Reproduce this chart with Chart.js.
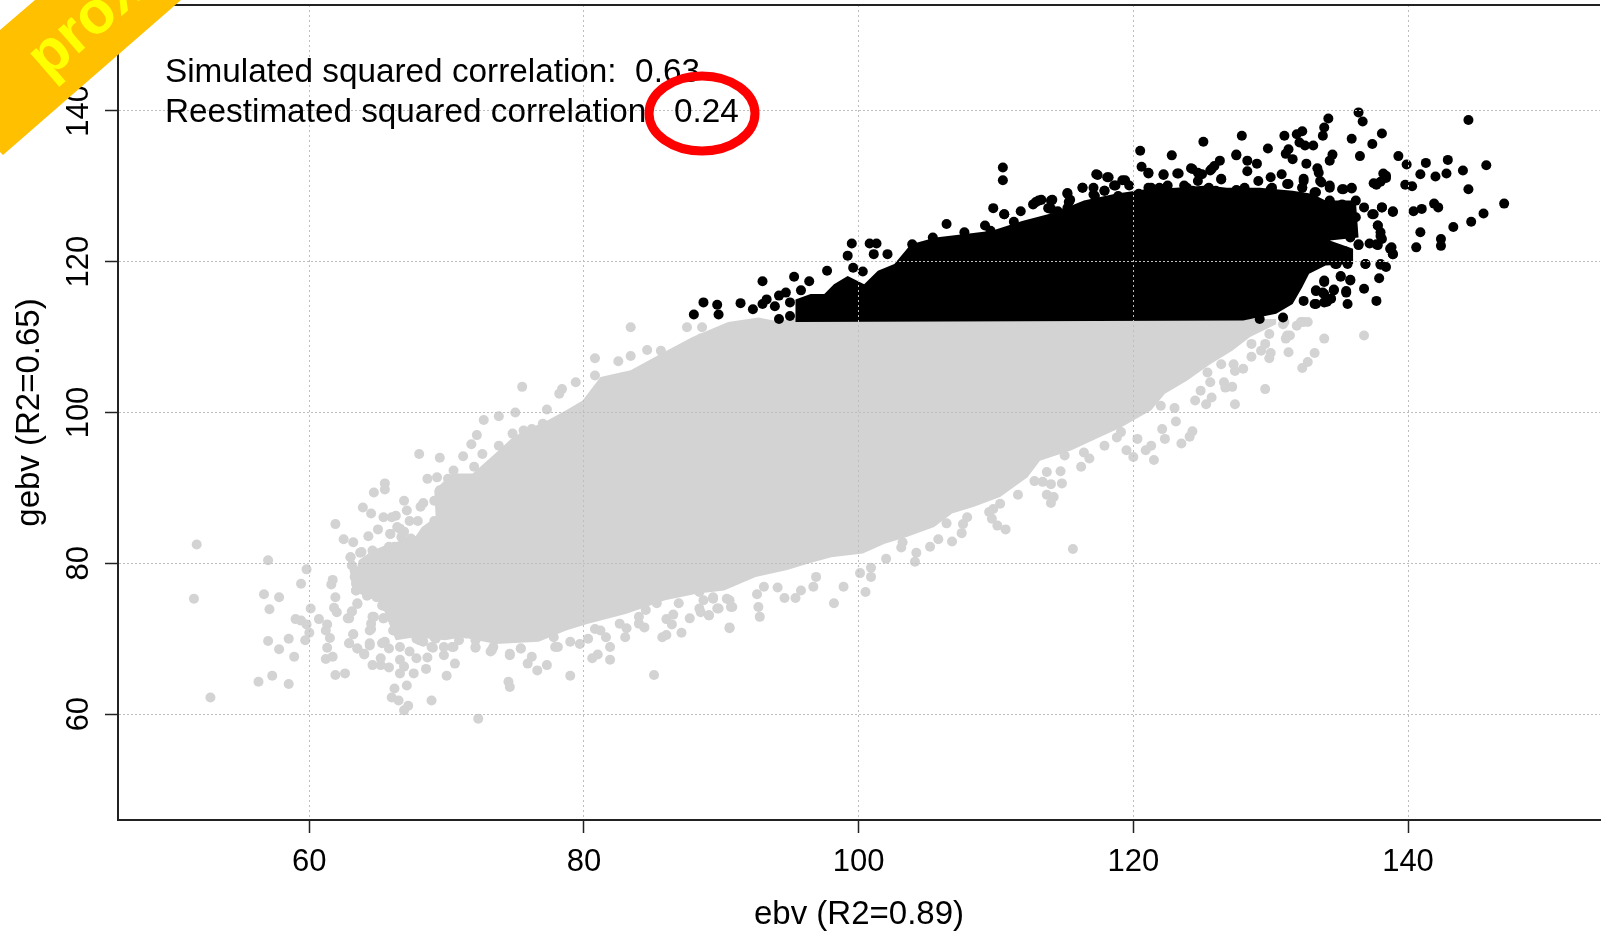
<!DOCTYPE html>
<html>
<head>
<meta charset="utf-8">
<style>html,body{margin:0;padding:0;background:#fff;overflow:hidden}canvas{display:block}</style>
<script src="https://cdn.jsdelivr.net/npm/chart.js@4"></script>
</head>
<body>
<canvas id="c" width="1605" height="932"></canvas>
<script>
const xTickValues = [60, 80, 100, 120, 140];
const yTickValues = [60, 80, 100, 120, 140];
const xTitle = 'ebv (R2=0.89)';
const yTitle = 'gebv (R2=0.65)';
const noteLines = ['Simulated squared correlation:  0.63', 'Reestimated squared correlation:  0.24'];
const ribbonText = 'prox';

// dense part of the unselected cloud: its outline
const grayCore = [[63.6,76],[65.3,74.7],[65.6,72.9],[66.3,69.8],[67.7,70.2],[69.9,69.8],[71.1,70.2],[73.6,69.3],[76.7,69.6],[78.7,71.1],[80.3,72],[83.1,73.3],[85.9,75.1],[88.3,76],[90.2,76.4],[92.5,78.2],[94.8,79.1],[96.4,80],[98,80.8],[100.3,81.3],[101.9,82.6],[103.5,83.5],[105.5,84.8],[106.8,86.6],[108.4,87.5],[110.3,88.8],[112.3,91.4],[113.2,93.6],[115.5,95],[117.5,96.7],[119.1,98],[121.3,100.3],[122.3,102.5],[123.9,104.2],[125.6,106.4],[127.2,108.2],[128.5,110],[130.4,111.7],[130.4,112.4],[96.8,112.6],[93.8,112.2],[92.7,112.6],[90.5,112],[87.9,110],[85.6,107.8],[83.4,105.6],[81.2,104.7],[79.9,101.6],[78.7,100.3],[77.3,98.9],[75.7,97.6],[74.8,96.7],[73.8,95],[71.9,91.9],[70.4,91.9],[69.1,89.7],[69.2,86.1],[68.2,84.8],[67.7,83.5],[65.8,82.6],[64.6,81.7],[63.6,80.4],[63.3,78],[63.6,76]];

// separately visible unselected animals
const grayPoints = [[51.8,82.5],[51.6,75.3],[52.8,62.2],[56.3,64.3],[57.3,65.1],[58.5,64],[57,80.4],[56.7,75.9],[57.8,75.5],[57.1,73.9],[59.4,77.3],[59.8,79.2],[60.1,74],[57,69.7],[57.8,68.6],[58.5,70],[58.9,67.6],[59,72.6],[59.4,72.4],[59.8,71.9],[60,70.8],[59.7,69.8],[60.7,72.6],[61.3,71.9],[61.2,71.1],[61.5,70.1],[61.3,68.8],[61.2,67.3],[61.7,67.6],[61.9,65.2],[62.6,65.4],[61.9,85.2],[62.5,83.2],[63.2,82.8],[61.7,77.8],[61.6,77.2],[61.9,75.5],[61.8,74.1],[62,73.5],[62.8,72.7],[63.1,73.6],[63.5,74.6],[63,80.8],[63.1,79.7],[63.3,78.2],[63.4,77.3],[63.4,76.4],[63.7,81.4],[63.9,87.4],[64.5,86.6],[64.7,89.4],[65.5,90.6],[65.5,89.8],[64.3,83.6],[65,84.5],[65.4,86.1],[66,86.1],[66.3,86.3],[66.9,88.3],[67.1,87],[68.1,87.5],[68.3,88],[68,94.5],[69.5,94],[68.6,91.2],[69.3,91.4],[70.5,92.3],[70.1,91.2],[71.2,91],[71.2,94.2],[71.8,95.8],[72.2,97],[72.7,99],[73.8,99.5],[75,100],[77.3,100.4],[67.3,85.6],[67.9,85.6],[69.1,85.6],[65.9,83.9],[66.6,84.6],[67.3,83],[65.8,82.2],[64.8,81.3],[64.4,78.4],[64.2,75.7],[64.9,75.5],[65.3,74.4],[64.7,72.9],[64.5,72],[64.4,71.1],[65.4,72.7],[63.2,70.6],[62.9,69.4],[63.5,68.7],[64.4,69.1],[64,67.9],[64.6,66.5],[65.2,67.4],[65.2,66.5],[65.8,66.2],[65.5,69.6],[65.8,68.7],[66.6,68.9],[67.3,68.3],[67.8,67.4],[68.6,67.5],[68.5,66],[66.6,67.2],[66.9,66.3],[66.6,65.4],[67.6,65.4],[67.1,63.8],[66.2,63.4],[66,62.2],[66.5,61.8],[67.2,61.1],[66.9,60.5],[68.9,61.8],[72.3,59.4],[70,65.1],[70.6,66.7],[69.8,67.8],[70.5,68.9],[69.1,70.2],[69,68.8],[67.8,70],[68.3,69.6],[72.1,68.8],[73.2,68.3],[74.6,67.8],[74.5,64.3],[74.6,63.6],[75.9,66.7],[76.6,65.8],[77.3,66.5],[76.2,67.6],[75.4,68.7],[78.1,68.9],[79,65.1],[79.7,69.3],[80.3,70],[80.6,67.4],[81,67.9],[81.9,67.2],[81.9,68.9],[80.8,71.3],[83,70.2],[83.1,71.4],[85.1,65.2],[84,72],[84.4,71.5],[85.7,70.2],[86,70.5],[87.1,70.8],[86.4,71.9],[86,72.6],[86.5,73.2],[87.7,72.7],[88.4,74],[89.1,73.1],[89.7,74],[89.4,75.3],[90.6,71.5],[90.8,74.2],[86.9,74.7],[88.4,76.2],[84.5,73.8],
[65.9,79.5],[65.3,80.4],[66.4,78.2],[66.2,76.4],[65.6,74.2],[66.2,72.4],[66.7,73.3],[67.3,72.9],[67.8,72],[68.7,71.1],[68.4,73.3],[69.5,72.4],[70.3,71.6],[71.4,70.7],[66.2,71.1],[66.7,70.7],[67.6,71.1],[65,79.5],[66.2,82.2],[66.7,83.5],[67.6,83],[69.1,88.3],[69.5,89.7],[69.9,89.2],[70.6,91],[72,92.8],[72.6,94.5],[73.8,95.6],[74.8,97.2],[75.6,97.6],[77,98.5],[76.2,97.8],[70.9,69.8],[72.1,69.8],[73.4,68.9],[75.1,70.2],[76.7,71.1],[77.8,70.2],[79,69.6],[81.2,71.1],[81.6,70.2],[82.6,72],[84,72.9],[85.3,74.7],[88.7,75.1],[90.6,75.1],
[136.8,110.2],[133.9,109.8],[132.4,112],[132.7,112],[131.9,111.5],[130.9,111.7],[131.4,110.2],[131.1,109.8],[131.3,108],[133.2,107.9],[132.7,106.7],[132.3,105.9],[129.9,110.4],[129.6,109.1],[130,107.9],[129.9,107.2],[128.6,107.4],[129.3,108.2],[128.6,109.1],[128,105.8],[127.3,106.4],[127.4,105.5],[126.4,106.4],[129.6,103.1],[127.2,103.4],[126.6,104],[126.7,103.3],[127.4,101.1],[125.7,102],[125.3,101.1],[124.5,101.6],[125.6,104],[124.9,102.9],[125.4,105.3],[123,100.6],[122,100.9],[123.1,98.8],[124.3,97.5],[124.1,96.8],[123.5,95.9],[122.3,96.5],[122.1,97.8],[121.5,93.7],[121.3,95.6],[120.9,95],[120.3,96.5],[120,94.1],[119.5,95],[119.1,97.4],[118.8,96.7],[117.9,95.6],[116.8,93.9],[116.2,92.8],[116.4,94.7],[115,94.3],[114.7,92.2],[114.8,90.6],[113.7,92.1],[114,90.5],[112.8,90.9],[113.4,90.8],[111.6,89.1],[113.7,89.1],[114.2,88.8],[114,88],[110.3,87.9],[109.8,87.2],[109.5,86.8],[109.7,85.9],[110.1,85],[110.7,84.5],[115.6,81.9],[107.9,86.1],[107.6,85.2],[107.5,84],[106.4,85.3],[106.8,82.9],[105.8,83.2],[105.2,82.2],[104.2,81.4],[104.1,80.2],[103.1,82.1],[103.2,82.8],[102,80.6],[100.9,79.4],[100.9,78.2],[100.1,78.7],[100.5,76.2],[98.9,76.9],[98.2,74.7],[96.7,76.9],[96.9,78.2],[95.8,76.4],[95.4,75.4],[94.6,75.4],[94.1,76.8],[93.1,76.9],[92.6,75.9],[92.7,74.2],[92.8,72.9],[90.6,71.4],[90.7,74.2],[89.4,75.5],[89.1,73.1],[88.5,73.5],[89.8,74],[90.4,75.3],
[83.4,111.3],[80.8,107.2],[82.5,106.8],[83.4,107.5],[84.6,108.3],[85.6,108.2],[87.5,111.3],[88.6,111.3],[88.5,109.8],[75.5,103.4],[78.4,103.1],[79.4,104],[80.8,104.9],[81.6,103.6],[82.9,104.7],[78.2,102.5]];

// more unselected animals along the crowded left rim
const grayRim = [[63,80.8],[63.8,81.5],[64.6,81.7],[63.3,79],[63.4,77.8],[63.4,76.4],[64.2,76.4],[63.5,74.7],[63.1,73.6],[62.9,72.7],[64.6,72.9],[64.5,71.3],[63.2,70.6],[62.9,69.4],[63.5,68.7],[64.4,69.4],[64,68],[65.3,69.4],[65.4,72.7],[66.1,71.1],[67.3,71.6],[66.8,72.9],[68,69.8],[69.2,70],[68.9,68.9],[69.8,68.9],[70.4,68.9],[72.1,68.9],[73.3,68.5],[74.6,68],[75.4,68.7],[77.9,68.9],[64.6,76.9],[66.4,84.8],[66.9,84.2],[67.4,83.3],[65.9,83.9],[131,112],[132.2,112],[131.2,110.2]];

// dense part of the selected group: its outline
const blackCore = [[95.4,112],[95.4,115],[96.5,115.7],[97.5,115.7],[98.2,117],[99.2,118.1],[100.4,117],[101.4,118.8],[102.6,119.7],[103.8,122.3],[105.6,123.2],[107.9,123.7],[109.7,124.1],[111.9,125.4],[114.2,126.5],[116.4,128.1],[118.7,129],[120.9,129.6],[123.1,129.8],[125.4,130.1],[126.8,129.8],[129.2,129.8],[131.6,129.4],[133,129],[134,128.1],[136.2,128.1],[136.4,123.2],[134.3,122.8],[136,121.7],[136,119.7],[134,119.5],[132.8,118.4],[132.3,116.6],[131.6,114.4],[130.4,113.1],[128,112.2],[95.4,112]];

// separately visible selected animals
const blackPoints = [[136.4,139.8],[136.7,138.6],[134.2,139],[144.4,138.8],[133.9,137.8],[133.8,136.7],[138.1,137],[135.9,136.3],[137.4,135.6],[133.1,135.4],[132.3,137.3],[131.9,136.9],[131,136.7],[132.1,135.8],[127.9,136.7],[125.1,135.9],[129.8,135],[131.3,134.9],[131.1,134.3],[131.6,133.6],[132.5,135.4],[136.5,134],[134.5,134.2],[134.3,133.4],[139.3,134],[127.5,134.1],[122.8,134.1],[120.5,134.7],[120.6,132.6],[121.1,131.8],[122.2,131.5],[123.2,131.7],[124.3,132.3],[125,131.6],[125.7,132.3],[126.3,133.4],[126.4,131],[128.3,133.4],[129,133],[128.3,132],[132.6,133],[133.4,132.4],[139.9,132.9],[141.3,133.1],[142.9,133.5],[145.7,132.8],[144,132.1],[142.8,131.7],[142,131.3],[140.9,131.6],[138.2,131.7],[138.4,131.1],[137.7,130.2],[139.8,130.2],[140.3,130],[144.4,129.6],[147,127.7],[145.5,126.4],[144.6,125.3],[143.3,124.6],[141.9,127.7],[142.2,127.2],[141,127],[140.4,126.7],[138.9,126.6],[138.1,127.2],[137.5,126.3],[136.8,127.2],[140.9,123.9],[140.6,121.9],[142.4,123],[142.4,122.1],[137.8,124.8],[138,123.4],[137.7,122.3],[138.8,121.9],[138.9,121],[136.9,119.7],[138,119.7],[138.4,119.3],[137.9,117.8],[136.8,116.4],[137.7,114.8],[135.6,114.4],[135.5,115.9],[135.8,117.5],[135.1,118.1],[134.6,116.2],[134.8,119.7],[133.9,117.5],[133.9,115.7],[133.3,116.2],[132.4,114.8],[133.3,114.4],[134.1,114.7],[136.4,122.3],[136.2,125.9],[135.1,124.8],[135.8,123.2],[135.2,127.6],[136.2,128.1],[134.3,128.1],[135.3,129.6],[135.9,129.7],[134.3,129.8],[133.6,130.7],[133.2,129.2],[132.4,131],[131.3,130.3],[132.3,129.8],[130.8,131.6],[130,131.2],[129.1,130.7],[130,129.6],[127.6,129.4],[123.9,129.8],[121.3,129.8],[122.4,129.8],[125.4,129.6],[119.4,130.8],[118.1,131.2],[117.4,131.5],[118.7,130.1],[117.9,129.4],[116.3,129.8],[117.2,128.7],[115.2,129],[115.3,127.9],[113.1,128.1],[114,128.1],[112.7,127.6],[114,127],[114.9,126.1],[111.8,126.7],[110.5,132.5],[110.5,130.8],[109.8,127.1],[110.6,126.3],[111.3,125.3],[109.2,124.8],[109.6,124.1],[106.4,125],[107.7,123.9],[105.4,123.2],[103.9,122.3],[100.8,122.4],[101.3,122.4],[99.5,122.4],[99.2,120.8],[101.1,121],[102.1,121],[97.7,118.8],[99.6,119.2],[100.3,118.7],[96.4,117.4],[95.3,118],[93,117.4],[88,113],[88.7,114.6],[89.7,114.3],[89.8,113],[91.4,114.5],[92.3,113.7],[93,114.4],[93.3,115],[93.9,114.1],[94.2,112.4],[94.2,115.5],[94.7,115.9],[95,112.8],[95,114.6],[95.8,116.2]];

// more selected animals along the crowded upper and right rim
const blackRim = [[110.6,126.3],[112.9,127.9],[113.3,128.2],[114.1,128.2],[113.8,127.1],[114.5,126.7],[115.2,129.1],[115.4,128.2],[115.2,127.1],[115.8,126.5],[116.3,129.8],[117.1,129.8],[117.1,128.9],[117.9,129.4],[117.3,131.6],[118.2,131.2],[118.6,130.1],[119.2,130.8],[118.9,128.7],[119.7,130.1],[121.1,131.7],[122.2,131.6],[123.3,131.7],[124.2,132.4],[124.7,131.8],[125.6,132.1],[125.9,132.7],[127.5,134.2],[124.7,130.7],[126.4,130.9],[120.4,129],[121.1,129.8],[121.9,129.8],[122.5,130.1],[123.7,130.1],[124.3,129.4],[125.5,129.8],[126,129.4],[127.5,129.5],[128.1,129.8],[133.5,131.8],[133.7,130.5],[134.3,130.1],[135.2,129.6],[135.9,129.8],[131.2,130.3],[130.1,129.8],[132.4,130.7],[132.3,129.8],[133.3,129.2],[134.3,127.9],[138.1,127.2],[137.4,126.3],[138.9,126.7],[137.5,130.4],[138,130.6],[138.4,131.4],[137.8,124.8],[138,123.9],[138.1,123],[137.8,122.2],[137.2,122.4],[136.4,122.2],[138.7,121.7],[138.9,121],[136.9,119.7],[138,119.6],[135.5,116.1],[135.1,118],[135.8,117.6],[134.6,116.3],[133.9,117.3],[133.8,115.9],[133.3,116.1],[133.2,114.4],[133.9,114.6],[134.4,115.1],[134.7,119.7],[135.6,119.7],[135.4,121.4],[134.3,120.8],[129.2,112.4],[130.9,112.6]];

const toXY = ([x, y]) => ({x, y});

const overlay = {
  id: 'overlay',
  afterDraw(chart) {
    const {ctx, chartArea: a} = chart;
    ctx.save();
    // top frame line
    ctx.strokeStyle = '#222'; ctx.lineWidth = 2;
    ctx.beginPath(); ctx.moveTo(a.left, a.top); ctx.lineTo(a.right, a.top); ctx.stroke();
    // notes
    ctx.fillStyle = '#000'; ctx.font = '33.3px "Liberation Sans"'; ctx.textAlign = 'left'; ctx.textBaseline = 'middle';
    ctx.fillText(noteLines[0], 165, 73);
    ctx.fillText(noteLines[1], 165, 113);
    // red ring
    ctx.strokeStyle = '#ff0000'; ctx.lineWidth = 9;
    ctx.beginPath(); ctx.ellipse(702, 113.5, 53, 37.5, 0, 0, Math.PI * 2); ctx.stroke();
    // corner ribbon
    ctx.fillStyle = '#ffc000';
    ctx.beginPath(); ctx.moveTo(0, 30); ctx.lineTo(35, 0); ctx.lineTo(181, 0); ctx.lineTo(3, 155); ctx.lineTo(0, 152); ctx.closePath(); ctx.fill();
    ctx.save();
    ctx.beginPath(); ctx.moveTo(0, 30); ctx.lineTo(35, 0); ctx.lineTo(181, 0); ctx.lineTo(3, 155); ctx.lineTo(0, 152); ctx.closePath(); ctx.clip();
    ctx.translate(48, 80); ctx.rotate(-41 * Math.PI / 180);
    ctx.fillStyle = '#ffff00'; ctx.font = 'bold 60px "Liberation Sans"'; ctx.textBaseline = 'alphabetic';
    ctx.fillText(ribbonText, 0, 0);
    ctx.restore();
    ctx.restore();
  }
};

const commonGrid = {color: '#bebebe', lineWidth: 1, z: 1, tickColor: '#222', tickWidth: 1.5, tickLength: 13};
const noPadding = s => { s.paddingTop = 0; s.paddingBottom = 0; s.paddingLeft = 0; s.paddingRight = 0; };

new Chart(document.getElementById('c'), {
  type: 'scatter',
  plugins: [overlay],
  data: {
    datasets: [
      {label: 'selected', data: blackPoints.concat(blackRim).map(toXY), backgroundColor: '#000', pointRadius: 5, borderWidth: 0, pointBorderWidth: 0, order: 1},
      {label: 'selected core', data: blackCore.map(toXY), showLine: true, fill: 'shape', backgroundColor: '#000', borderColor: '#000', borderWidth: 0, pointRadius: 0, tension: 0, order: 2},
      {label: 'others', data: grayPoints.concat(grayRim).map(toXY), backgroundColor: '#d3d3d3', pointRadius: 5, borderWidth: 0, pointBorderWidth: 0, order: 3},
      {label: 'others core', data: grayCore.map(toXY), showLine: true, fill: 'shape', backgroundColor: '#d3d3d3', borderColor: '#d3d3d3', borderWidth: 0, pointRadius: 0, tension: 0, order: 4}
    ]
  },
  options: {
    responsive: false,
    animation: false,
    layout: {padding: {top: 4, left: 0, right: 0, bottom: 0}},
    plugins: {legend: {display: false}, tooltip: {enabled: false}, title: {display: false}},
    scales: {
      x: {
        type: 'linear', min: 46.07, max: 153.98,
        afterBuildTicks: s => { s.ticks = xTickValues.map(value => ({value})); },
        afterFit: s => { s.height = 112; noPadding(s); },
        grid: commonGrid,
        border: {display: true, color: '#222', width: 2, dash: [2, 3], z: 1},
        ticks: {color: '#000', padding: 11, maxRotation: 0, autoSkip: false, font: {family: 'Liberation Sans', size: 31}},
        title: {display: true, text: xTitle, color: '#000', padding: 0, font: {family: 'Liberation Sans', size: 33, lineHeight: 1.05}}
      },
      y: {
        type: 'linear', min: 45.96, max: 154.04,
        afterBuildTicks: s => { s.ticks = yTickValues.map(value => ({value})); },
        afterFit: s => { s.width = 118; noPadding(s); },
        grid: commonGrid,
        border: {display: true, color: '#222', width: 2, dash: [2, 2], z: 1},
        ticks: {color: '#000', padding: 0, minRotation: 90, maxRotation: 90, crossAlign: 'center', autoSkip: false, font: {family: 'Liberation Sans', size: 31}},
        title: {display: true, text: yTitle, color: '#000', padding: {top: 10, bottom: 0}, font: {family: 'Liberation Sans', size: 33}}
      }
    }
  }
});
</script>
</body>
</html>
